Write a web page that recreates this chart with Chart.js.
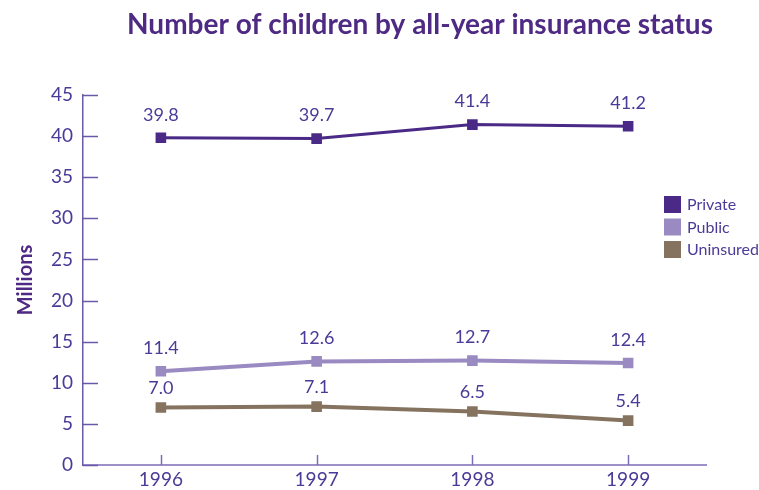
<!DOCTYPE html>
<html>
<head>
<meta charset="utf-8">
<script src="https://cdn.jsdelivr.net/npm/chart.js@4"></script>
<style>
  html, body { margin: 0; padding: 0; background: #fff; }
  #wrap { width: 759px; height: 490px; }
</style>
</head>
<body>
<div id="wrap"><canvas id="myChart" width="759" height="490"></canvas></div>
<script>
const years = ['1996', '1997', '1998', '1999']
const seriesNames = ['Private', 'Public', 'Uninsured']
const privateVals = [39.8, 39.7, 41.4, 41.2]
const publicVals = [11.4, 12.6, 12.7, 12.4]
const uninsuredVals = [7.0, 7.1, 6.5, 5.4]
const yTicks = [0, 5, 10, 15, 20, 25, 30, 35, 40, 45]

const textColor = '#4b3a97'
const colors = ['#4a2a86', '#9a8ac2', '#857360']
const fontFace = 'Lato, "Open Sans", sans-serif'

// title, value labels, inward tick marks and the legend box
const extras = {
  id: 'extras',
  afterDatasetsDraw(chart) {
    const ctx = chart.ctx
    const xs = chart.scales.x
    const ys = chart.scales.y
    ctx.save()

    ctx.strokeStyle = '#6a58ab'
    ctx.lineWidth = 1.5
    yTicks.forEach(v => {
      const py = Math.round(ys.getPixelForValue(v)) + 0.5
      ctx.beginPath()
      ctx.moveTo(xs.left, py)
      ctx.lineTo(xs.left + 15, py)
      ctx.stroke()
    })
    ctx.strokeStyle = '#7d6db8'
    years.forEach((y, i) => {
      const px = Math.round(xs.getPixelForValue(i)) + 0.5
      ctx.beginPath()
      ctx.moveTo(px, ys.bottom)
      ctx.lineTo(px, ys.bottom - 10)
      ctx.stroke()
    })

    ctx.fillStyle = textColor
    ctx.font = '18px ' + fontFace
    ctx.textAlign = 'center'
    ctx.textBaseline = 'middle'
    const offsets = [23, 23, 19]
    chart.data.datasets.forEach((ds, di) => {
      chart.getDatasetMeta(di).data.forEach((pt, i) => {
        ctx.fillText(ds.data[i].toFixed(1), pt.x, pt.y - offsets[di])
      })
    })

    ctx.fillStyle = '#4f2a84'
    ctx.font = 'bold 28px ' + fontFace
    ctx.fillText('Number of children by all-year insurance status', 420, 25)

    ctx.font = '16px ' + fontFace
    ctx.textAlign = 'left'
    chart.data.datasets.forEach((ds, di) => {
      const top = 196 + di * 22.5
      ctx.fillStyle = ds.borderColor
      ctx.fillRect(664, top, 17, 17)
      ctx.fillStyle = textColor
      ctx.fillText(ds.label, 687, top + 9)
    })
    ctx.restore()
  }
}

const ctx = document.getElementById('myChart').getContext('2d')
const myChart = new Chart(ctx, {
  type: 'line',
  data: {
    labels: years,
    datasets: [privateVals, publicVals, uninsuredVals].map((vals, i) => ({
      label: seriesNames[i],
      data: vals,
      borderColor: colors[i],
      backgroundColor: colors[i],
      borderWidth: i === 0 ? 3 : 4,
      pointStyle: 'rect',
      pointRadius: 7.5,
      pointHoverRadius: 7.5,
      pointBorderWidth: 0,
      tension: 0
    }))
  },
  options: {
    responsive: false,
    animation: false,
    layout: { padding: { top: 95, right: 53, left: 0, bottom: 0 } },
    plugins: {
      legend: { display: false },
      tooltip: { enabled: false }
    },
    scales: {
      x: {
        offset: true,
        grid: { display: true, drawOnChartArea: false, drawTicks: false },
        border: { display: true, color: '#9d90c8', width: 2 },
        ticks: { color: textColor, font: { family: fontFace, size: 19 }, padding: 3 },
        afterFit(scale) { scale.height = 25 }
      },
      y: {
        min: 0,
        max: 45,
        afterBuildTicks(scale) { scale.ticks = yTicks.map(v => ({ value: v })) },
        grid: { display: true, drawOnChartArea: false, drawTicks: false },
        border: { display: true, color: '#6a58ab', width: 1.5 },
        ticks: { color: textColor, font: { family: fontFace, size: 19 }, padding: 10 },
        title: {
          display: true,
          text: 'Millions',
          color: '#4f2a84',
          font: { family: fontFace, size: 20, weight: 'bold' },
          padding: { top: 14, bottom: 8 }
        },
        afterFit(scale) { scale.width = 83 }
      }
    }
  },
  plugins: [extras]
})
</script>
</body>
</html>
